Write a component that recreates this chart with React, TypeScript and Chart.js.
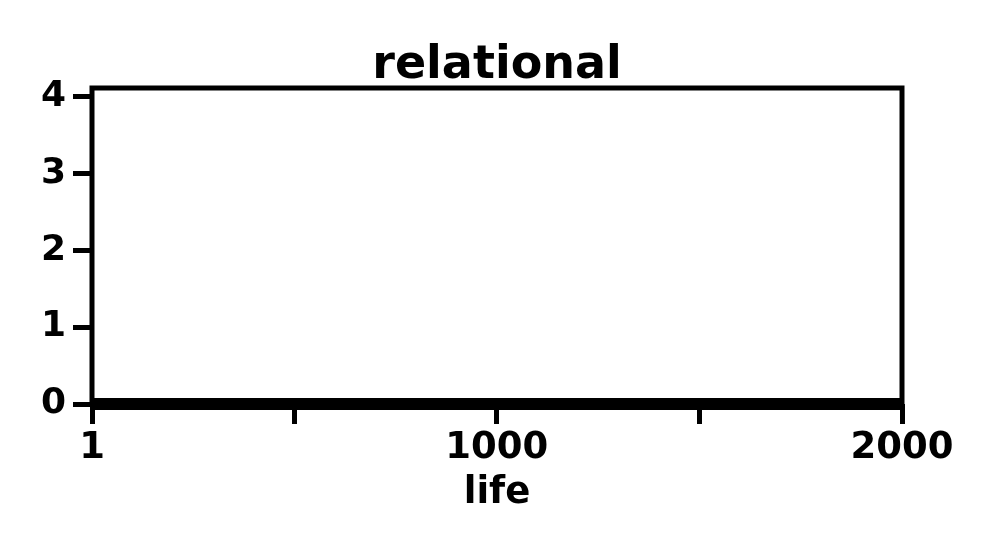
import React, { useEffect, useRef } from "react";
import { Chart, registerables } from "chart.js";

Chart.register(...registerables);

const chartTitle = "relational";
const xAxisTitle = "life";
const lifeSteps = [1, 500, 1000, 1500, 2000];
const relationalValues = [0, 0, 0, 0, 0];
const xTickValues = [1, 500, 1000, 1500, 2000];
const xTickLabels = ["1", "", "1000", "", "2000"];
const yTickValues = [0, 1, 2, 3, 4];
const yMin = 0;
const yMax = 4.11;

const FONT = "'DejaVu Sans', sans-serif";

const framePlugin = {
  id: "framePlugin",
  afterDraw(chart: any) {
    const { ctx, chartArea } = chart;
    const { left, right, top, bottom } = chartArea;
    ctx.save();
    ctx.strokeStyle = "#000";
    ctx.lineWidth = 5;
    ctx.strokeRect(left, top, right - left, bottom - top);
    ctx.fillStyle = "#000";
    ctx.textAlign = "center";
    ctx.textBaseline = "alphabetic";
    const cx = (left + right) / 2;
    ctx.font = `bold 46px ${FONT}`;
    ctx.fillText(chartTitle, cx, 78);
    ctx.font = `bold 37px ${FONT}`;
    ctx.fillText(xAxisTitle, cx, 503);
    ctx.restore();
  },
};

export default function App() {
  const ref = useRef<HTMLCanvasElement | null>(null);
  useEffect(() => {
    document.body.style.margin = "0";
    const canvas = ref.current;
    if (!canvas) return;
    const chart = new Chart(canvas, {
      type: "line",
      data: {
        datasets: [
          {
            label: chartTitle,
            data: lifeSteps.map((x, i) => ({ x, y: relationalValues[i] })),
            borderColor: "#000",
            backgroundColor: "#000",
            borderWidth: 12,
            pointRadius: 0,
            clip: false as any,
          },
        ],
      },
      options: {
        animation: false,
        responsive: false,
        maintainAspectRatio: false,
        layout: { padding: { top: 88, right: 94, left: 0, bottom: 0 } },
        plugins: {
          legend: { display: false },
          title: { display: false },
          tooltip: { enabled: false },
        },
        scales: {
          x: {
            type: "linear",
            min: 1,
            max: 2000,
            afterBuildTicks: (s: any) => {
              s.ticks = xTickValues.map((v) => ({ value: v }));
            },
            afterFit: (s: any) => {
              s.height = 150;
            },
            ticks: {
              autoSkip: false,
              maxRotation: 0,
              padding: 2,
              color: "#000",
              font: { family: FONT, size: 37, weight: "bold" },
              callback: (v: any) => {
                const i = xTickValues.indexOf(Number(v));
                return i >= 0 ? xTickLabels[i] : "";
              },
            },
            grid: {
              drawOnChartArea: false,
              drawTicks: true,
              tickLength: 20,
              tickWidth: 5,
              tickColor: "#000",
            },
            border: { display: false },
          },
          y: {
            type: "linear",
            min: yMin,
            max: yMax,
            afterBuildTicks: (s: any) => {
              s.ticks = yTickValues.map((v) => ({ value: v }));
            },
            afterFit: (s: any) => {
              s.width = 92;
            },
            ticks: {
              padding: 7,
              color: "#000",
              font: { family: FONT, size: 36, weight: "bold" },
              callback: (v: any) => String(v),
            },
            grid: {
              drawOnChartArea: false,
              drawTicks: true,
              tickLength: 19,
              tickWidth: 5,
              tickColor: "#000",
            },
            border: { display: false },
          },
        },
      },
      plugins: [framePlugin],
    });
    return () => chart.destroy();
  }, []);
  return (
    <div style={{ width: 996, height: 554, background: "#fff" }}>
      <canvas ref={ref} width={996} height={554} style={{ display: "block" }} />
    </div>
  );
}
